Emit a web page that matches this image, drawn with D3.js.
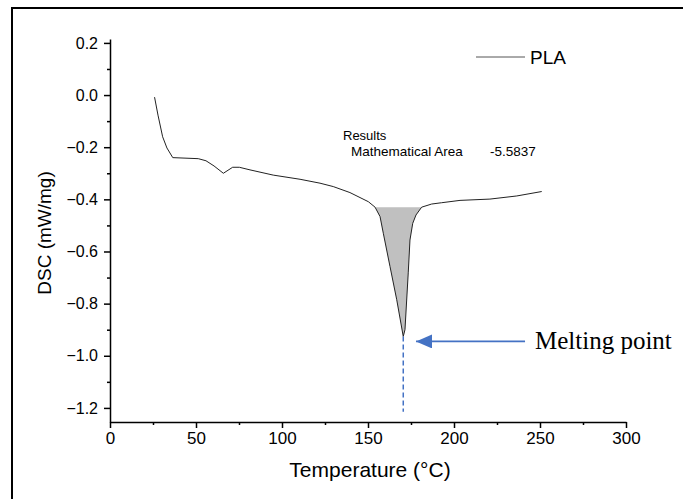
<!doctype html>
<html>
<head>
<meta charset="utf-8">
<style>
    body { margin: 0; background: #fff; }
    svg text { font-family: "Liberation Sans", Arial, sans-serif; fill: #000; }
    .axis path, .axis line { stroke: #000; stroke-width: 1.5; }
    .axis text { font-size: 17px; }
</style>
<script src="https://d3js.org/d3.v7.min.js"></script>
</head>
<body>
<svg id="chart" width="683" height="499"></svg>
<script>

    // DSC curve of PLA
    var temperature = [25.9, 27.9, 30.6, 33.1, 36.5, 51.3, 55.8, 60.5, 65.9, 71.3, 75.2, 81.4,
                       94.9, 110.5, 122.1, 129.8, 139.5, 150.2, 154.1, 157.0, 158.9, 162.8,
                       166.7, 170.5, 171.5, 173.4, 174.4, 176.0, 177.9, 181.2, 187.0, 192.8,
                       203.5, 220.9, 236.5, 251.0];
    var dsc = [-0.008, -0.077, -0.160, -0.203, -0.240, -0.244, -0.252, -0.272, -0.300, -0.277,
               -0.277, -0.287, -0.307, -0.323, -0.338, -0.351, -0.374, -0.409, -0.430, -0.466,
               -0.530, -0.658, -0.785, -0.926, -0.900, -0.682, -0.556, -0.492, -0.460, -0.430,
               -0.418, -0.413, -0.404, -0.399, -0.387, -0.370];

    var xTicks = [0, 50, 100, 150, 200, 250, 300];
    var xMinor = [25, 75, 125, 175, 225, 275];
    var yTicks = [0.2, 0.0, -0.2, -0.4, -0.6, -0.8, -1.0, -1.2];
    var yMinor = [0.1, -0.1, -0.3, -0.5, -0.7, -0.9, -1.1];

    var peakStart = 154.1, peakEnd = 181.2, peakBase = -0.430;
    var meltT = 170.5, meltDsc = -0.926, dashEnd = -1.215;
    var arrowFrom = 241.3, arrowTo = 177.9, arrowY = -0.945;

    var data = temperature.map(function(t, i) { return {t: t, v: dsc[i]}; });

    var svg = d3.select("#chart");

    var x = d3.scaleLinear().domain([0, 300]).range([110, 626]);
    var y = d3.scaleLinear().domain([-1.254, 0.215]).range([422, 39]);

    // frame (left and top edge)
    svg.append("path")
       .attr("d", "M12,499V8H683")
       .attr("fill", "none")
       .attr("stroke", "#000")
       .attr("stroke-width", 2);

    // shaded area of the melting peak
    var peak = data.filter(function(d) { return d.t >= peakStart && d.t <= peakEnd; });
    svg.append("path")
       .datum(peak)
       .attr("fill", "#c0c0c0")
       .attr("d", d3.area()
           .x(function(d) { return x(d.t); })
           .y0(y(peakBase))
           .y1(function(d) { return y(d.v); }));

    svg.append("path")
       .datum(data)
       .attr("fill", "none")
       .attr("stroke", "#222")
       .attr("stroke-width", 1)
       .attr("d", d3.line()
           .x(function(d) { return x(d.t); })
           .y(function(d) { return y(d.v); }));

    // axes
    var gx = svg.append("g").attr("class", "axis")
       .attr("transform", "translate(0," + y.range()[0] + ")");
    gx.call(d3.axisBottom(x).tickValues(xTicks).tickSize(6).tickSizeOuter(0).tickPadding(4));
    gx.append("g").call(d3.axisBottom(x).tickValues(xMinor).tickSize(3).tickFormat(""))
      .select(".domain").remove();

    var gy = svg.append("g").attr("class", "axis")
       .attr("transform", "translate(" + x.range()[0] + ",0)");
    gy.call(d3.axisLeft(y).tickValues(yTicks).tickSize(6).tickSizeOuter(0).tickPadding(6)
       .tickFormat(d3.format(".1f")));
    gy.append("g").call(d3.axisLeft(y).tickValues(yMinor).tickSize(3).tickFormat(""))
      .select(".domain").remove();
    gy.selectAll("text").style("font-size", "16px");

    svg.append("text")
       .attr("x", 370)
       .attr("y", 477)
       .attr("text-anchor", "middle")
       .attr("font-size", "21px")
       .text("Temperature (°C)");

    svg.append("text")
       .attr("transform", "translate(51,233) rotate(-90)")
       .attr("text-anchor", "middle")
       .attr("font-size", "19px")
       .text("DSC (mW/mg)");

    // legend
    svg.append("line")
       .attr("x1", 476).attr("x2", 525)
       .attr("y1", 57).attr("y2", 57)
       .attr("stroke", "#555").attr("stroke-width", 1);
    svg.append("text")
       .attr("x", 530).attr("y", 64)
       .attr("font-size", "19px")
       .text("PLA");

    // results box
    svg.append("text").attr("x", 343).attr("y", 140).attr("font-size", "13px").text("Results");
    svg.append("text").attr("x", 351).attr("y", 156).attr("font-size", "13.5px").text("Mathematical Area");
    svg.append("text").attr("x", 490).attr("y", 156).attr("font-size", "13.5px").text("-5.5837");

    // melting point marker
    var blue = "#4472c4";
    svg.append("line")
       .attr("x1", x(meltT)).attr("x2", x(meltT))
       .attr("y1", y(meltDsc)).attr("y2", y(dashEnd))
       .attr("stroke", blue).attr("stroke-width", 1.5)
       .attr("stroke-dasharray", "5,3");

    svg.append("defs").append("marker")
       .attr("id", "head")
       .attr("viewBox", "0 0 16 14")
       .attr("refX", 16).attr("refY", 7)
       .attr("markerWidth", 16).attr("markerHeight", 14)
       .attr("markerUnits", "userSpaceOnUse")
       .attr("orient", "auto")
       .append("path").attr("d", "M0,0L16,7L0,14Z").attr("fill", blue);

    svg.append("line")
       .attr("x1", x(arrowFrom)).attr("x2", x(arrowTo))
       .attr("y1", y(arrowY)).attr("y2", y(arrowY))
       .attr("stroke", blue).attr("stroke-width", 1.8)
       .attr("marker-end", "url(#head)");

    svg.append("text")
       .attr("x", 535).attr("y", 349)
       .style("font-family", "'Liberation Serif', 'Times New Roman', serif")
       .attr("font-size", "25px")
       .text("Melting point");

</script>
</body>
</html>
